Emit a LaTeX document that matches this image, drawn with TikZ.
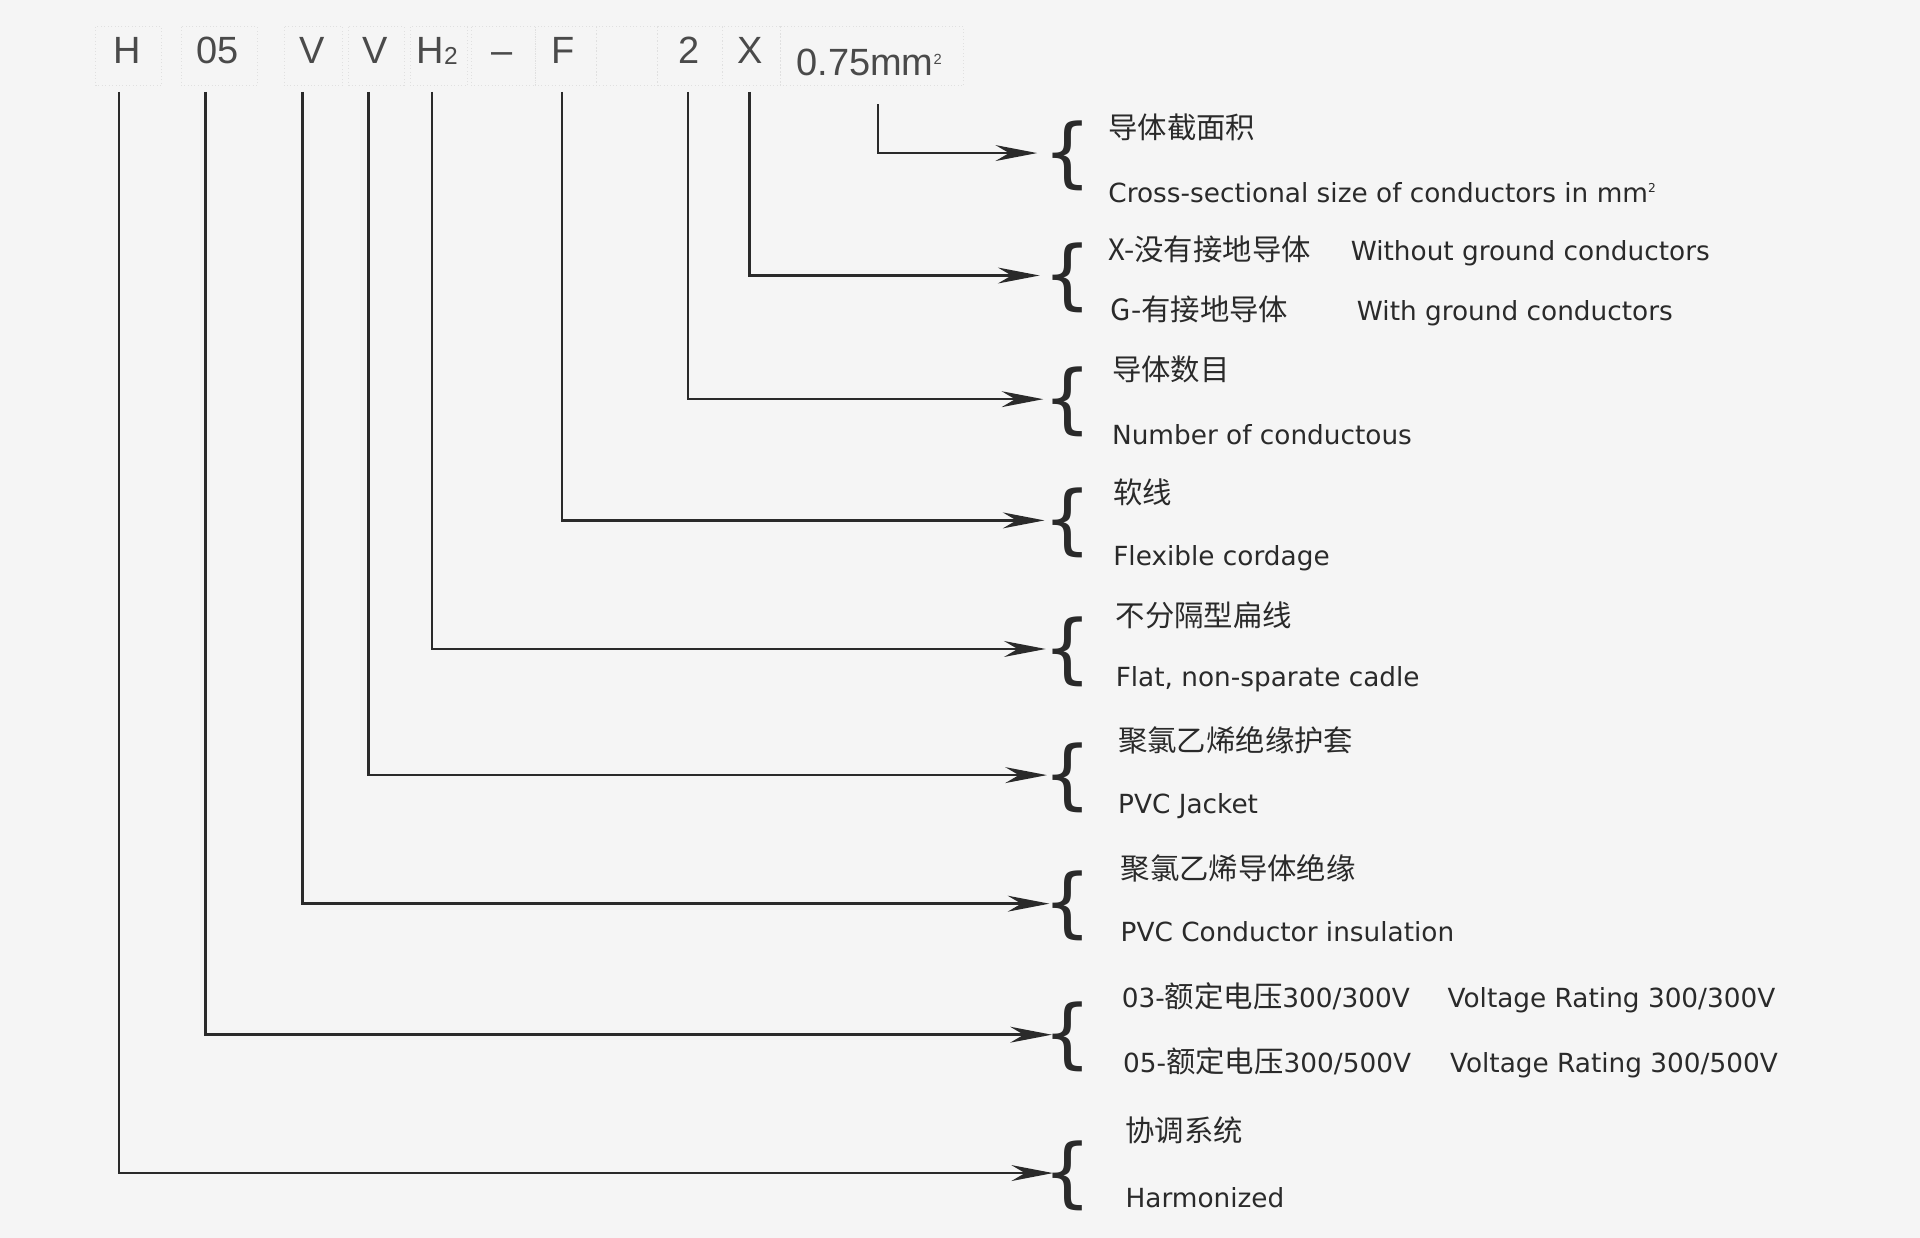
\documentclass[tikz,border=0pt]{standalone}
\usepackage{fontspec}
\setmainfont{DejaVu Sans}
\newfontfamily\hdf{Liberation Sans}
\newfontfamily\cjk{Noto Sans CJK SC}
\usetikzlibrary{arrows.meta}
\definecolor{ink}{HTML}{2A2A2A}
\begin{document}
\begin{tikzpicture}[x=1pt,y=-1pt,
  hd/.style={font=\hdf\fontsize{31}{32}\selectfont, text=ink!85, inner sep=0pt, anchor=base},
  bx/.style={draw=black!12, dotted, line width=0.8pt},
  lead/.style={draw=ink, line width=2pt, -{Stealth[length=34pt,width=13pt]}},
  lab/.style={font=\fontsize{21.5}{24}\selectfont, text=ink, anchor=base west, inner sep=0pt},
  zh/.style={font=\cjk\fontsize{24}{26}\selectfont, text=ink, anchor=base west, inner sep=0pt},
  br/.style={font=\fontsize{62}{62}\selectfont, text=ink, inner sep=0pt}]
\fill[white!96!black] (0,0) rectangle (1568,1011);
\useasboundingbox (0,0) rectangle (1568,1011);
% header boxes
\foreach \a/\b in {78/132,148/210,232/280,285/330,335/382,385/437,437/487,487/537,537/590,590/637,637/787}
  \draw[bx] (\a,22) rectangle (\b,70);
\node[hd] (h) at (104,52) {H};
\node[hd] (o5) at (178,52) {05};
\node[hd] (v1) at (255,52) {V};
\node[hd] (v2) at (306,52) {V};
\node[hd] (h2) at (357,52) {H\raisebox{-1pt}{\fontsize{20}{20}\selectfont 2}};
\node[hd] (da) at (410,52) {–};
\node[hd] (f) at (460,52) {F};
\node[hd] (n2) at (563,52) {2};
\node[hd] (xx) at (613,52) {X};
\node[hd] (mm) at (710,62) {0.75mm\textsuperscript{\fontsize{12}{12}\selectfont 2}};
% leader corners and targets
\foreach \n/\x/\y/\t/\e in {a/717/125/85/847, b/612/225/75/849, c/562/326/75/852, d/459/425/75/853, e/353/530/75/854, f/301/633/75/855, g/247/738/75/857, h/168/845/75/859, i/97/958/75/860}{
  \coordinate (s\n) at (\x,\t);
  \coordinate (k\n) at (\x,\y);
  \coordinate (t\n) at (\e,\y);
  \draw[lead] (s\n) -- (k\n) -- (t\n);
  \node[br] (br\n) at (872,\y+2) {\{};
}
% labels
\node[zh] (za) at (905,113) {导体截面积};
\node[lab] (la) at (905,165) {Cross-sectional size of conductors in mm\textsuperscript{\fontsize{10}{10}\selectfont 2}};
\node[zh] (zb) at (905,213) {X-没有接地导体};
\node[lab] (lb) at (1103,213) {Without ground conductors};
\node[zh] (zb2) at (907,262) {G-有接地导体};
\node[lab] (lb2) at (1108,262) {With ground conductors};
\node[zh] (zc) at (908,311) {导体数目};
\node[lab] (lc) at (908,363) {Number of conductous};
\node[zh] (zd) at (909,411) {软线};
\node[lab] (ld) at (909,462) {Flexible cordage};
\node[zh] (ze) at (911,512) {不分隔型扁线};
\node[lab] (le) at (911,561) {Flat, non-sparate cadle};
\node[zh] (zf) at (913,614) {聚氯乙烯绝缘护套};
\node[lab] (lf) at (913,664) {PVC Jacket};
\node[zh] (zg) at (915,718) {聚氯乙烯导体绝缘};
\node[lab] (lg) at (915,769) {PVC Conductor insulation};
\node[lab] (zh1) at (916,823) {03-{\cjk\fontsize{24}{26}\selectfont 额定电压}300/300V};
\node[lab] (lh1) at (1182,823) {Voltage Rating 300/300V};
\node[lab] (zh2) at (917,876) {05-{\cjk\fontsize{24}{26}\selectfont 额定电压}300/500V};
\node[lab] (lh2) at (1184,876) {Voltage Rating 300/500V};
\node[zh] (zi) at (919,932) {协调系统};
\node[lab] (li) at (919,986) {Harmonized};
\end{tikzpicture}
\end{document}
